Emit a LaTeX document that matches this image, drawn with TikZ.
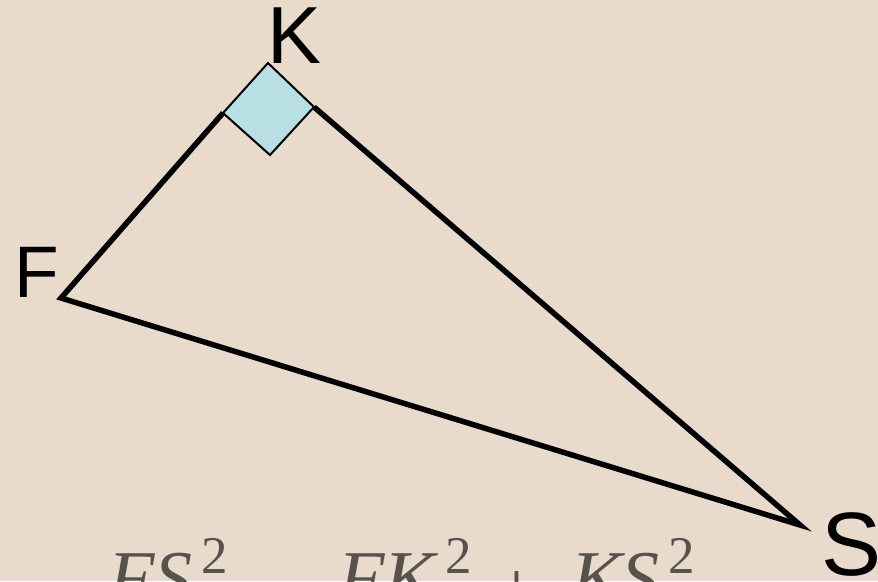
\documentclass[tikz,border=0pt]{standalone}
\usepackage{fontspec}
\setmainfont{Liberation Serif}
\newfontfamily\labelfont{Liberation Sans}
\definecolor{paper}{RGB}{233,219,204}
\definecolor{rightsq}{RGB}{184,224,228}
\definecolor{eqgray}{RGB}{88,82,76}
\tikzset{
  side/.style={line width=5.5pt, line join=miter, draw=black},
  sqmark/.style={line width=2pt, draw=black, fill=rightsq, line join=miter},
  vlabel/.style={inner sep=0pt, anchor=base, font=\labelfont},
  eqtext/.style={inner sep=0pt, anchor=base west, text=eqgray, font=\fontsize{76}{76}\selectfont\itshape},
  eqsup/.style={inner sep=0pt, anchor=base west, text=eqgray, font=\fontsize{53}{53}\selectfont},
  eqop/.style={inner sep=0pt, anchor=base, text=eqgray, font=\fontsize{76}{76}\selectfont},
}
\begin{document}
\begin{tikzpicture}[x=1pt,y=-1pt]
\fill[paper] (0,0) rectangle (878,581);
\useasboundingbox (0,0) rectangle (878,581);
% vertices
\coordinate (K) at (268,63);
\coordinate (F) at (61,298);
\coordinate (S) at (800,525);
% right-angle square corners
\coordinate (Lc) at (223,113);
\coordinate (Rc) at (314,107);
\coordinate (Bc) at (270,155);
% triangle sides
\draw[side] (Lc) -- (F) -- (S) -- (Rc);
% right-angle mark
\draw[sqmark] (K) -- (Rc) -- (Bc) -- (Lc) -- cycle;
% vertex labels
\node[vlabel, font=\labelfont\fontsize{81}{81}\selectfont] (labK) at (295,63) {K};
\node[vlabel, font=\labelfont\fontsize{73}{73}\selectfont] (labF) at (36.5,297) {F};
\node[vlabel, font=\labelfont\fontsize{90}{90}\selectfont] (labS) at (852,575) {S};
% equation (partly below the frame)
\node[eqtext] (e1) at (108,603) {FS};
\node[eqsup] (e1s) at (201,573) {2};
\node[eqtext] (e2) at (338,603) {FK};
\node[eqsup] (e2s) at (445,573) {2};
\node[eqop] (pl) at (517,614) {+};
\node[eqtext] (e3) at (571,603) {KS};
\node[eqsup] (e3s) at (668,573) {2};
\end{tikzpicture}
\end{document}
